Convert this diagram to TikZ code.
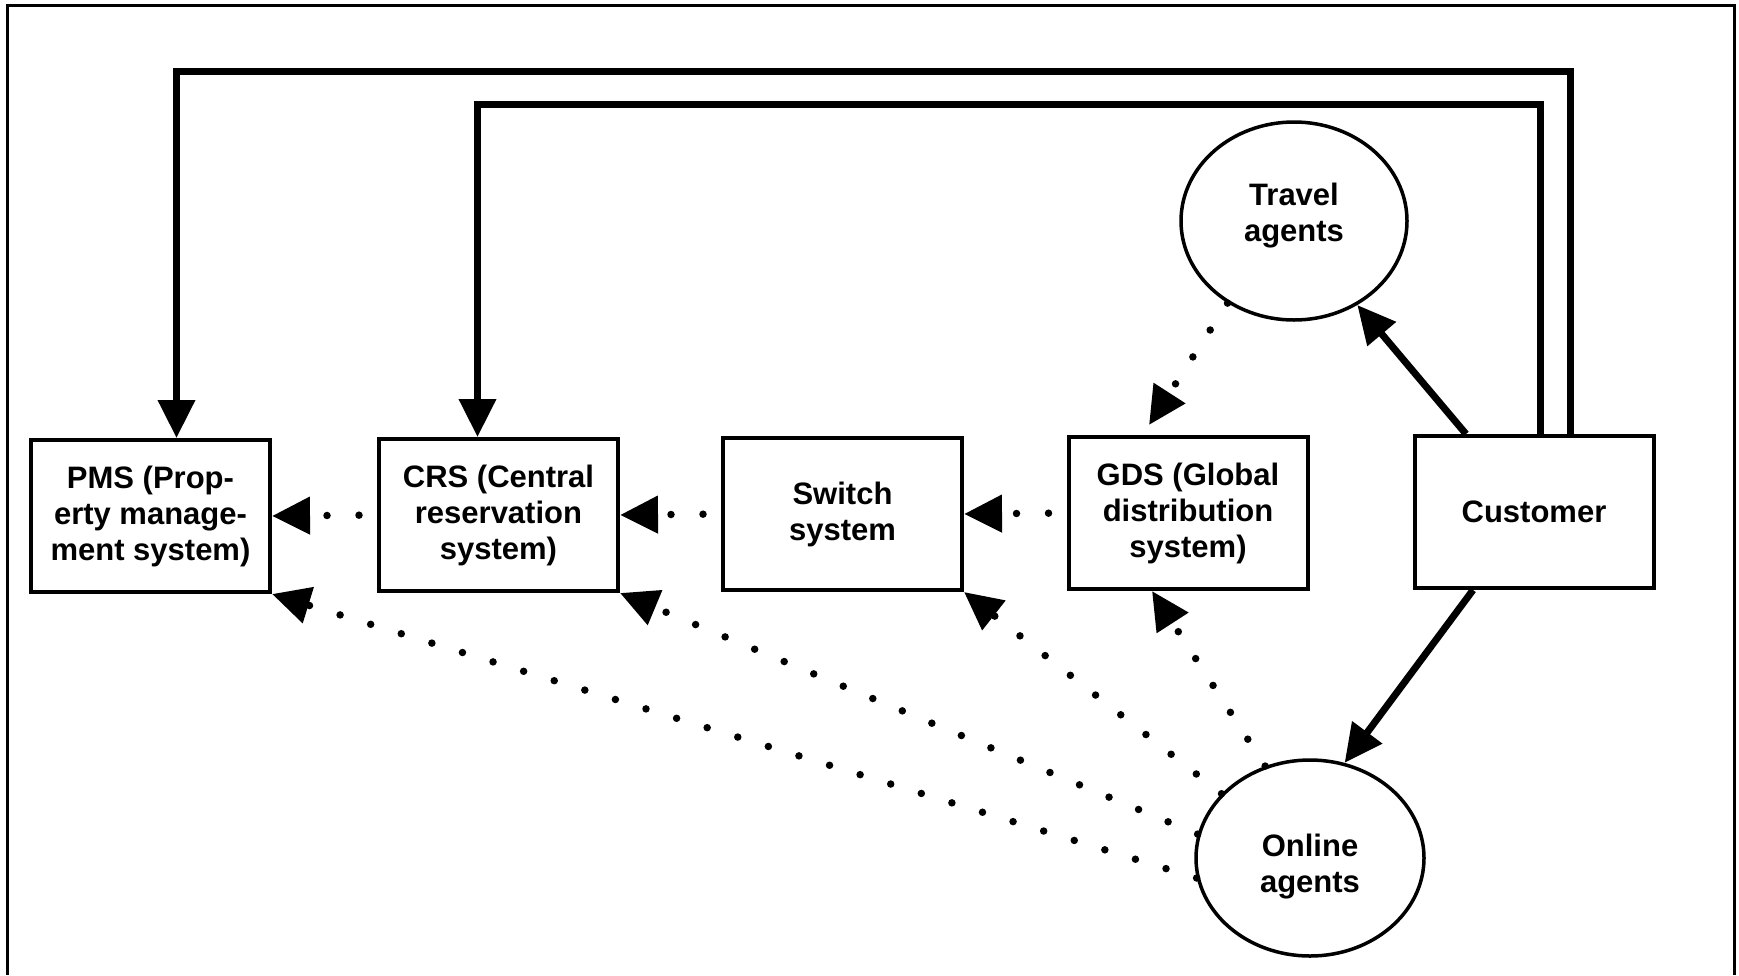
\documentclass[tikz,border=0pt]{standalone}
\usepackage{fontspec}
\setmainfont{Liberation Sans}
\usetikzlibrary{arrows.meta,shapes.geometric}
\begin{document}
\begin{tikzpicture}[x=1pt,y=1pt,
  lbl/.style={font=\fontsize{31}{36}\selectfont\bfseries, align=center},
  box/.style={lbl, draw, line width=4pt, minimum width=239pt, minimum height=152pt, inner sep=0pt},
  agent/.style={lbl, draw, ellipse, line width=3.5pt, inner sep=0pt},
  tip/.style={-{Triangle[length=38pt,width=36pt]}},
  solidarr/.style={tip, line width=7pt},
  dotarr/.style={tip, line width=7.5pt, line cap=round, dash pattern=on 0pt off 32pt},
  frameline/.style={line width=3pt}
]
\useasboundingbox (0,0) rectangle (1739,-975);
\draw[frameline] (7,-975) -- (7,-5) -- (1734,-5) -- (1734,-975);

\node[box] (pms) at (150.5,-516) {PMS (Prop-\\erty manage-\\ment system)};
\node[box] (crs) at (498.5,-515) {CRS (Central\\reservation\\system)};
\node[box] (sw)  at (842.5,-514) {Switch\\system};
\node[box] (gds) at (1188,-513) {GDS (Global\\distribution\\system)};
\node[box] (cust) at (1534,-512) {Customer};

\node[agent, minimum width=226pt, minimum height=198pt] (ta) at (1294,-221) {Travel\\agents\\[-18pt]};
\node[agent, minimum width=228pt, minimum height=196pt] (oa) at (1310,-858) {Online\\agents\\[-46pt]};

% solid connectors from the customer
\draw[solidarr] ([xshift=36]cust.north) -- ++(0,363) -| ([xshift=26]pms.north);
\draw[solidarr] ([xshift=6]cust.north) -- ++(0,330) -| ([xshift=-21]crs.north);
\draw[solidarr] ([xshift=-68]cust.north) -- (ta.-53);
\draw[solidarr] ([xshift=-61]cust.south) -- (oa.70);

% dotted connectors
\draw[dotarr] (ta.231) -- ([shift={(-39,10)}]gds.north);
\draw[dotarr, shorten <=18pt] (gds.west) -- (sw.east);
\draw[dotarr, shorten <=18pt] (sw.west) -- (crs.east);
\draw[dotarr, shorten <=18pt] (crs.west) -- (pms.east);
\draw[dotarr] (oa.190) -- (pms.south east);
\draw[dotarr] (oa.168) -- (crs.south east);
\draw[dotarr] (oa.144) -- (sw.south east);
\draw[dotarr] (oa.116) -- ([xshift=-36]gds.south);
\end{tikzpicture}
\end{document}
